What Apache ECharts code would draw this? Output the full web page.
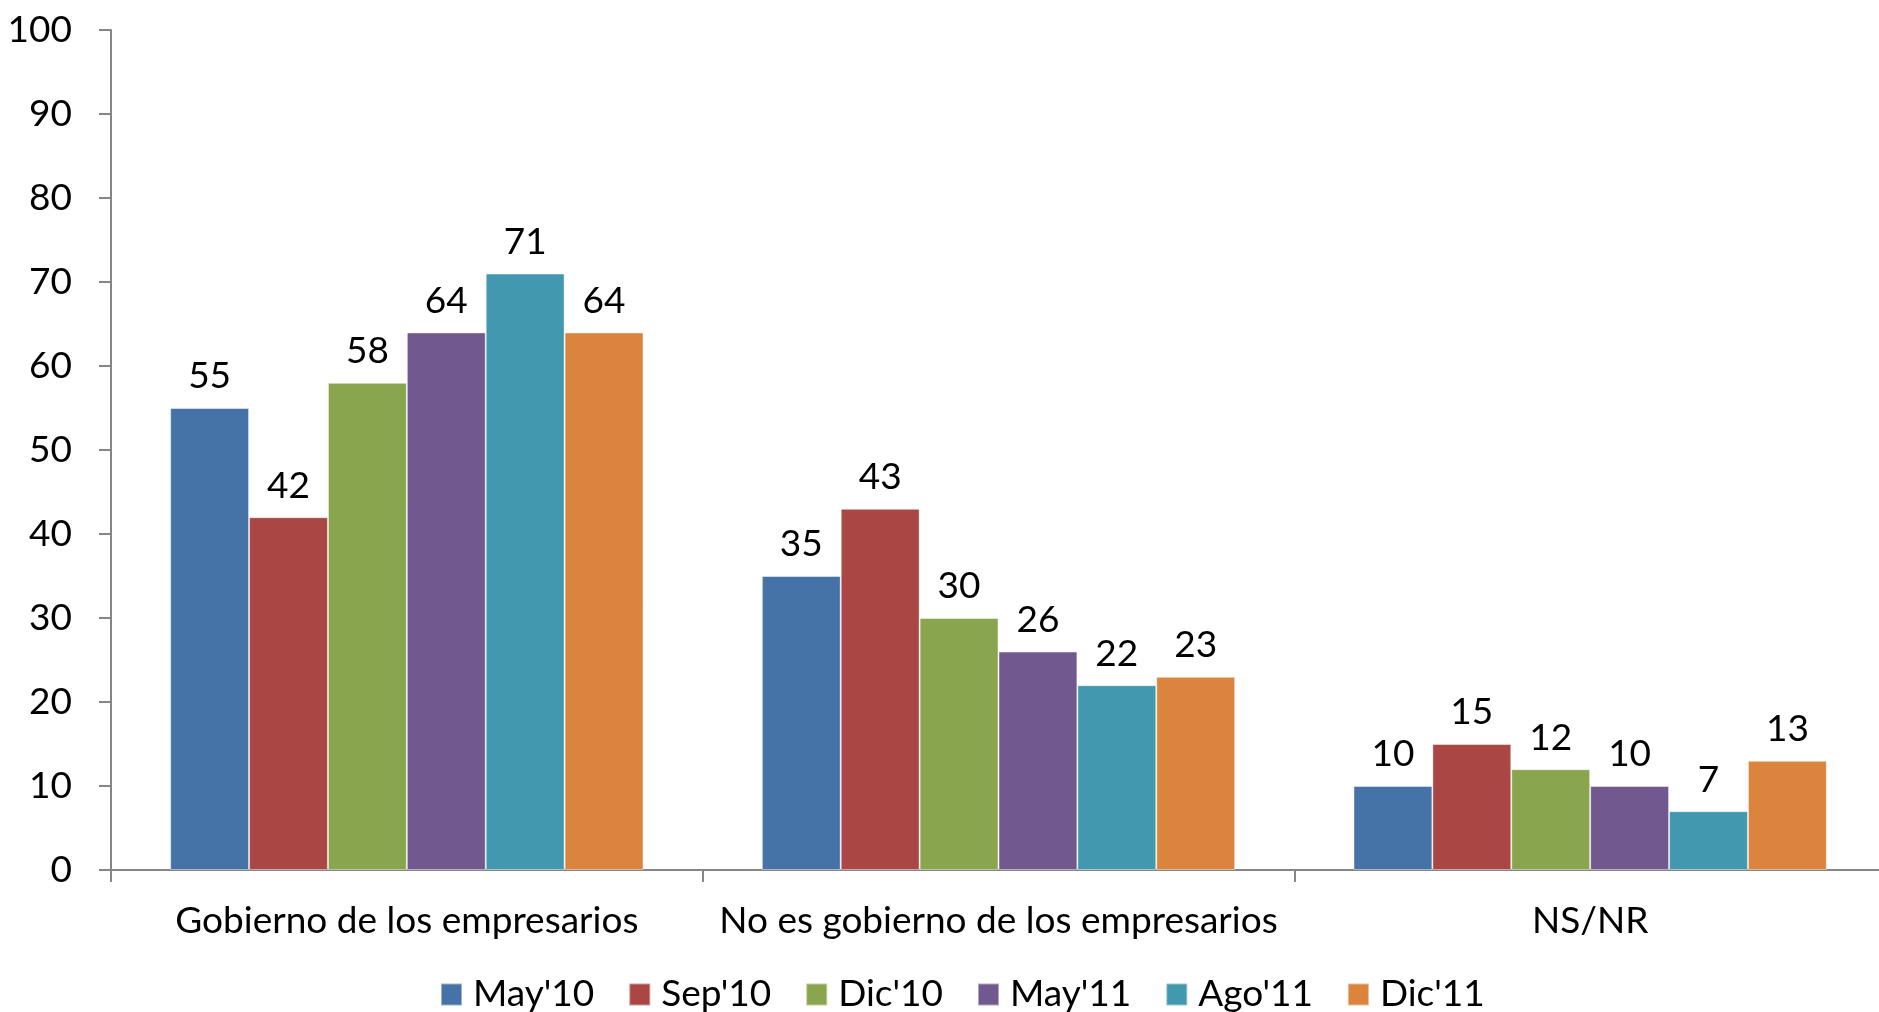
<!DOCTYPE html>
<html>
<head>
<meta charset="utf-8">
<script src="https://cdn.jsdelivr.net/npm/echarts@6/dist/echarts.min.js"></script>
<style>
  html, body { margin: 0; padding: 0; background: #fff; overflow: hidden; }
  #chart { width: 1886px; height: 1012px; }
</style>
</head>
<body>
<div id="chart"></div>
<script>
var categories = ['Gobierno de los empresarios', 'No es gobierno de los empresarios', 'NS/NR'];
var seriesNames = ["May'10", "Sep'10", "Dic'10", "May'11", "Ago'11", "Dic'11"];
var may10 = [55, 35, 10];
var sep10 = [42, 43, 15];
var dic10 = [58, 30, 12];
var may11 = [64, 26, 10];
var ago11 = [71, 22, 7];
var dic11 = [64, 23, 13];
var yTicks = [0, 10, 20, 30, 40, 50, 60, 70, 80, 90, 100];
var colors = ['#4572A7', '#AA4643', '#89A54E', '#71588F', '#4198AF', '#DB843D'];

var font = 'Lato';
var fs = 37;
var values = [may10, sep10, dic10, may11, ago11, dic11];

var series = [];
for (var i = 0; i < seriesNames.length; i++) {
    series.push({
        name: seriesNames[i],
        type: 'bar',
        data: values[i],
        barGap: '0%',
        barCategoryGap: '20%',
        itemStyle: {
            color: colors[i],
            borderColor: 'rgba(255,255,255,0.45)',
            borderWidth: 1
        },
        label: {
            show: true,
            position: 'top',
            distance: 13,
            color: '#000',
            fontFamily: font,
            fontSize: fs
        }
    });
}

// plot runs a bit past the right edge of the page, like the source
var chart = echarts.init(document.getElementById('chart'));
chart.setOption({
    animation: false,
    color: colors,
    grid: { left: 111, right: 0, top: 30, bottom: 142, containLabel: false },
    legend: {
        data: seriesNames,
        top: 971,
        left: 435,
        itemWidth: 21,
        itemHeight: 22,
        itemGap: 34,
        icon: 'rect',
        textStyle: { color: '#000', fontFamily: font, fontSize: fs, padding: [0, 0, 0, 6] }
    },
    xAxis: {
        type: 'category',
        data: categories,
        axisLine: { lineStyle: { color: '#868686', width: 2 } },
        axisTick: { show: true, length: 12, lineStyle: { color: '#868686', width: 2 } },
        axisLabel: { color: '#000', fontFamily: font, fontSize: fs, margin: 33, interval: 0, hideOverlap: false }
    },
    yAxis: {
        type: 'value',
        min: yTicks[0],
        max: yTicks[yTicks.length - 1],
        interval: 10,
        splitLine: { show: false },
        axisLine: { show: true, lineStyle: { color: '#868686', width: 2 } },
        axisTick: { show: true, length: 12, lineStyle: { color: '#868686', width: 2 } },
        axisLabel: { color: '#000', fontFamily: font, fontSize: fs, margin: 39 }
    },
    series: series
});
</script>
</body>
</html>
